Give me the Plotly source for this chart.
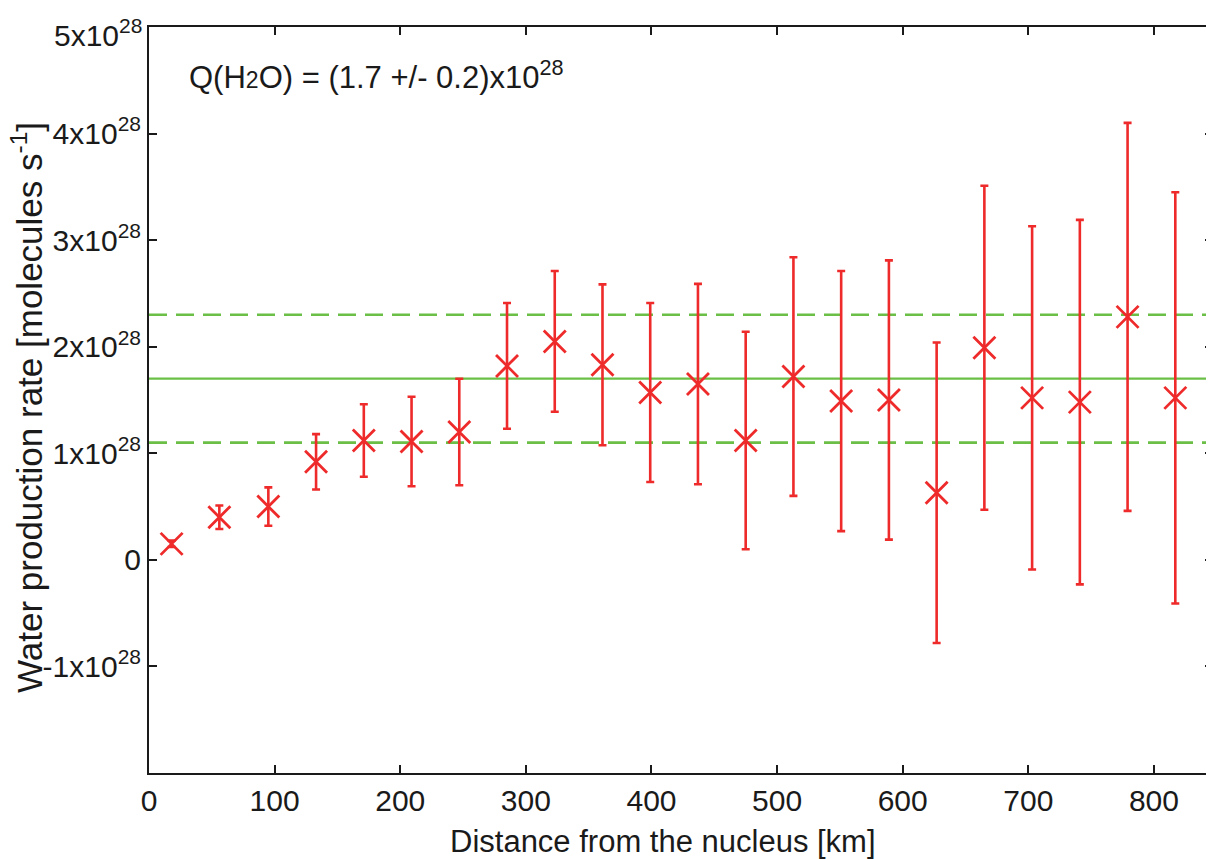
import plotly.graph_objects as go

# ---- data (values in units of 1e28 molecules/s) ----
distance_km = [18, 56, 95, 133, 171, 209, 247, 285, 323, 361, 399,
               437, 475, 513, 551, 589, 627, 665, 703, 741, 779, 817]
q_rate = [0.15, 0.40, 0.50, 0.92, 1.12, 1.11, 1.20, 1.82, 2.05, 1.83, 1.57,
          1.65, 1.12, 1.72, 1.49, 1.50, 0.63, 1.99, 1.52, 1.48, 2.28, 1.52]
q_err = [0.03, 0.11, 0.18, 0.26, 0.34, 0.42, 0.50, 0.59, 0.66, 0.755, 0.84,
         0.94, 1.02, 1.12, 1.22, 1.31, 1.41, 1.52, 1.61, 1.71, 1.82, 1.93]
q_mean = 1.7
q_upper = 2.3
q_lower = 1.1
unit = 1e28

x_ticks = [0, 100, 200, 300, 400, 500, 600, 700, 800]
y_tick_vals = [-1, 0, 1, 2, 3, 4, 5]
y_tick_text = ["-1x10<sup>28</sup>", "0", "1x10<sup>28</sup>", "2x10<sup>28</sup>",
               "3x10<sup>28</sup>", "4x10<sup>28</sup>", "5x10<sup>28</sup>"]

RED = "#ee2a2a"
GREEN = "#6bbf47"
INK = "#1a1a1a"
FONT = "Liberation Sans, Arial, Helvetica, sans-serif"

fig = go.Figure()

fig.add_trace(go.Scatter(
    x=distance_km,
    y=[v * unit for v in q_rate],
    mode="markers",
    marker=dict(symbol="x-thin-open", size=22, line=dict(color=RED, width=2.8), color=RED),
    error_y=dict(type="data", array=[e * unit for e in q_err], visible=True,
                 color=RED, thickness=2.6, width=4),
    showlegend=False,
))

fig.add_hline(y=q_mean * unit, line=dict(color=GREEN, width=2.2), layer="below")
fig.add_hline(y=q_upper * unit, line=dict(color=GREEN, width=2.6, dash="18px,9px"), layer="below")
fig.add_hline(y=q_lower * unit, line=dict(color=GREEN, width=2.6, dash="18px,9px"), layer="below")

fig.add_annotation(
    xref="paper", yref="paper", x=0.036, y=0.936, xanchor="left", yanchor="middle",
    text="Q(H<span style='font-size:23px'>2</span>O) = (1.7 +/- 0.2)x10<sup>28</sup>",
    showarrow=False, font=dict(family=FONT, size=31, color=INK),
)

# the top tick label sits a little below its tick (kept inside the figure)
fig.add_annotation(
    xref="paper", yref="y", x=0, y=y_tick_vals[-1] * unit, xanchor="right", yanchor="middle",
    xshift=-5, yshift=-6, text=y_tick_text[-1], showarrow=False,
    font=dict(family=FONT, size=30, color=INK),
)

# axis titles placed as annotations for precise positioning
fig.add_annotation(
    xref="paper", yref="paper", x=0.483, y=-0.092, xanchor="center", yanchor="middle",
    text="Distance from the nucleus [km]", showarrow=False,
    font=dict(family=FONT, size=31, color=INK),
)
fig.add_annotation(
    xref="paper", yref="paper", x=-0.1142, y=0.49, xanchor="center", yanchor="middle",
    textangle=-90,
    text="Water production rate [molecules s<sup>-1</sup>]", showarrow=False,
    font=dict(family=FONT, size=35, color=INK),
)

axis_common = dict(
    showline=True, linewidth=2, linecolor=INK, mirror="ticks",
    ticks="inside", ticklen=8, tickwidth=2, tickcolor=INK,
    showgrid=False, zeroline=False, ticklabeloverflow="allow",
)

fig.update_xaxes(
    range=[0, 847], tickvals=x_ticks, ticktext=[str(t) for t in x_ticks],
    tickfont=dict(family=FONT, size=30, color=INK),
    **axis_common,
)
fig.update_yaxes(
    range=[-2 * unit, 5 * unit],
    tickvals=[v * unit for v in y_tick_vals[:-1]], ticktext=y_tick_text[:-1],
    tickfont=dict(family=FONT, size=30, color=INK),
    **axis_common,
)

fig.update_layout(
    width=1206, height=851,
    margin=dict(l=141, r=1, t=19, b=86, autoexpand=False),
    paper_bgcolor="white", plot_bgcolor="white",
    font=dict(family=FONT, size=30, color=INK),
)

fig.write_html("out.html")
